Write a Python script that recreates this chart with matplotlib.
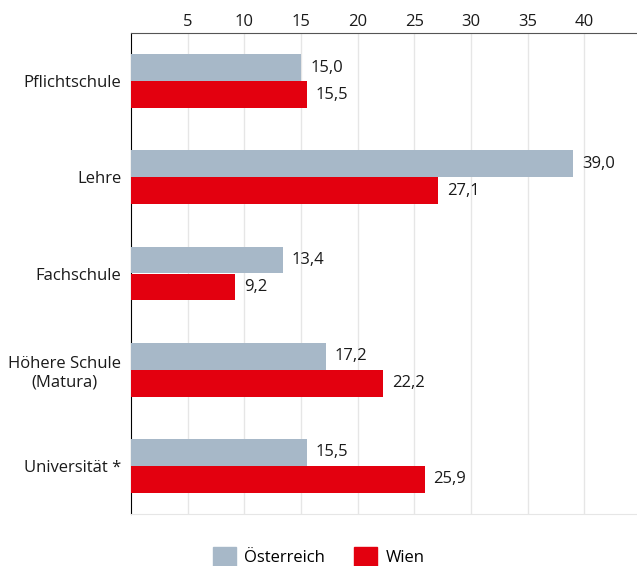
import matplotlib.pyplot as plt
import numpy as np
from matplotlib.patches import Patch

plt.rcParams['font.family'] = ['Open Sans', 'DejaVu Sans']

categories = ['Pflichtschule', 'Lehre', 'Fachschule', 'Höhere Schule\n(Matura)', 'Universität *']
oesterreich = [15.0, 39.0, 13.4, 17.2, 15.5]
wien = [15.5, 27.1, 9.2, 22.2, 25.9]
xticks = [5, 10, 15, 20, 25, 30, 35, 40]

grey = '#a7b8c8'
red = '#e3000f'
fs = 12

fig = plt.figure(figsize=(6.37, 5.66), dpi=100)
ax = fig.add_axes([131 / 637, 1 - 514 / 566, 1 - 131 / 637, (514 - 33) / 566])

y = np.arange(len(categories))
h = 0.28
ax.barh(y - h / 2, oesterreich, height=h, color=grey, zorder=3)
ax.barh(y + h / 2, wien, height=h, color=red, zorder=3)

for i in range(len(categories)):
    ax.text(oesterreich[i] + 0.8, y[i] - h / 2, f'{oesterreich[i]:.1f}'.replace('.', ','),
            va='center', ha='left', fontsize=fs, color='#1a1a1a')
    ax.text(wien[i] + 0.8, y[i] + h / 2, f'{wien[i]:.1f}'.replace('.', ','),
            va='center', ha='left', fontsize=fs, color='#1a1a1a')

ax.set_ylim(len(categories) - 0.5, -0.5)
ax.set_xlim(0, 44.65)
ax.set_yticks(y)
ax.set_yticklabels(categories, fontsize=fs, color='#1a1a1a', multialignment='center')
ax.tick_params(axis='y', length=0, pad=7)
ax.xaxis.tick_top()
ax.set_xticks(xticks)
ax.set_xticklabels([str(t) for t in xticks], fontsize=fs, color='#1a1a1a')
ax.tick_params(axis='x', length=0, pad=2)
ax.grid(axis='x', color='#e6e6e6', linewidth=1, zorder=0)

ax.spines['right'].set_visible(False)
ax.spines['top'].set_color('#555555')
ax.spines['bottom'].set_color('#e6e6e6')
ax.spines['left'].set_color('#000000')

handles = [Patch(color=grey, label='Österreich'), Patch(color=red, label='Wien')]
fig.legend(handles=handles, loc='lower center', bbox_to_anchor=(0.5, -0.027), ncol=2,
           frameon=False, fontsize=fs, handlelength=1.4, handleheight=1.4,
           columnspacing=1.7, handletextpad=0.5)

fig.savefig('out.png', dpi=100)
